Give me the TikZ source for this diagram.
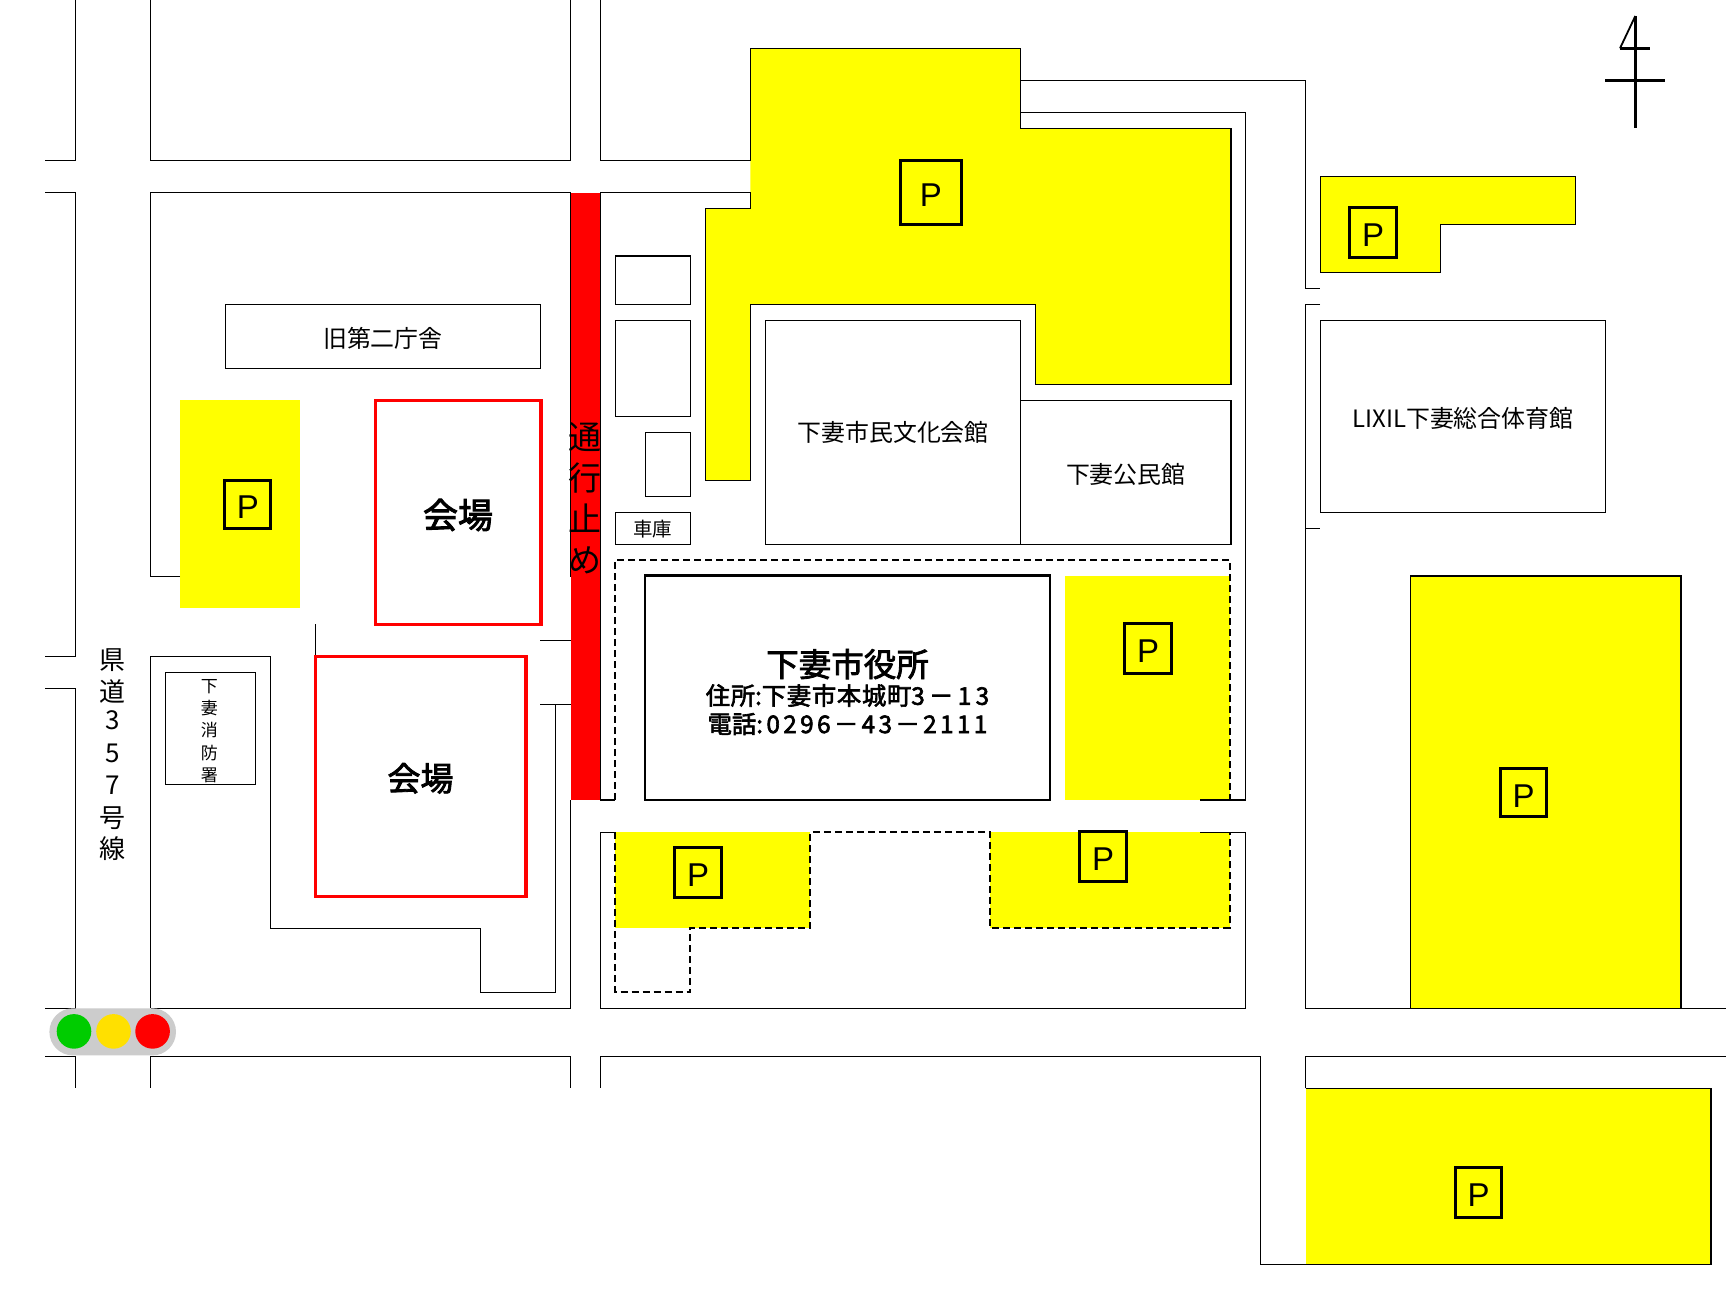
\documentclass[tikz,border=0pt]{standalone}
\usepackage{fontspec}
\setmainfont{Noto Sans CJK JP}
\newfontfamily\pfont{Liberation Sans}
\newfontfamily\semib[FakeBold=2.5]{Noto Sans CJK JP}
\newfontfamily\semibwide[FakeBold=2.5,LetterSpace=14]{Noto Sans CJK JP}
\newfontfamily\semibwider[FakeBold=2.5,LetterSpace=18]{Noto Sans CJK JP}
\newfontfamily\semibsnug[FakeBold=2.5,LetterSpace=3]{Noto Sans CJK JP}
\newcommand{\wide}[1]{{\semibwide #1}}
\newcommand{\widerb}[1]{{\semibwider #1}}
\newcommand{\snug}[1]{{\semibsnug #1}}
\newcommand{\dn}[2]{\raisebox{\dimexpr-0.37em-#1pt\relax}[0pt][0pt]{#2}}
\definecolor{parky}{RGB}{255,255,0}
\definecolor{sigg}{RGB}{0,204,0}
\definecolor{sigy}{RGB}{255,224,0}
\definecolor{sigr}{RGB}{255,0,0}
\definecolor{sigbox}{RGB}{204,204,204}
\newcommand{\rectnode}[7]{%
  \pgfmathsetmacro{\rw}{#5-#3}\pgfmathsetmacro{\rh}{#6-#4}%
  \node[#2, minimum width=\rw pt, minimum height=\rh pt] (#1) at (#3,#4) {#7};}
\tikzset{
  road/.style={draw=black, line width=1.4pt, line join=miter},
  plain/.style={draw=black, line width=1.4pt, anchor=north west, inner sep=0pt, outer sep=0pt, fill=white, align=center},
  labelfont/.style={font=\fontsize{23.9}{28}\selectfont},
  venue/.style={draw=red, line width=3.2pt, anchor=north west, inner sep=0pt, outer sep=0pt, fill=white, align=center},
  hall/.style={draw=black, line width=2.5pt, anchor=north west, inner sep=0pt, outer sep=0pt, fill=white},
  pmark/.style={draw=black, line width=3pt, anchor=north west, inner sep=0pt, outer sep=0pt, fill=parky, font=\pfont\fontsize{33}{36}\selectfont},
  lot/.style={fill=parky, draw=none},
  lotline/.style={fill=parky, draw=black, line width=1.4pt},
  dashline/.style={draw=black, line width=2pt, dash pattern=on 7pt off 4pt},
  northline/.style={draw=black, line width=3pt},
  sigdot/.style={circle, inner sep=0pt, minimum size=34.6pt, draw=none},
}
\begin{document}
\begin{tikzpicture}[x=1pt,y=-1pt]
\useasboundingbox (0,0) rectangle (1726,1297);
\fill[white] (0,0) rectangle (1726,1297);

% parking fills
\fill[lot] (750.4,48.3) -- (1020.6,48.3) -- (1020.6,128.5) -- (1230.9,128.5) -- (1230.9,384.3) -- (1035.4,384.3) -- (1035.4,304.4) -- (750.4,304.4) -- (750.4,480.4) -- (705.4,480.4) -- (705.4,208.4) -- (750.4,208.4) -- cycle;
\fill[lot] (180,400) rectangle (299.8,607.7);
\fill[lot] (1065.2,575.7) rectangle (1230,800);
\fill[lot] (615.2,832.3) rectangle (810.3,927.7);
\fill[lot] (990,832.3) rectangle (1230,927.7);
\fill[lot] (1410.6,576) rectangle (1680.8,1008.3);
\fill[lot] (1305.6,1088.3) rectangle (1711,1264.3);
\filldraw[lotline] (1320.3,176.3) -- (1575.7,176.3) -- (1575.7,224.3) -- (1440.3,224.3) -- (1440.3,272.3) -- (1320.3,272.3) -- cycle;

% closed road
\fill[red] (570.5,192.6) rectangle (600.5,799.8);

% roads and lots
\draw[road] (75.5,0) -- (75.5,160.4) -- (45,160.4);
\draw[road] (45,192.6) -- (75.5,192.6) -- (75.5,656.2) -- (45,656.2);
\draw[road] (45,688.2) -- (75.5,688.2) -- (75.5,1008.2) -- (45,1008.2);
\draw[road] (150.5,0) -- (150.5,160.4) -- (570.5,160.4) -- (570.5,0);
\draw[road] (180,576.5) -- (150.5,576.5) -- (150.5,192.6) -- (570.5,192.6) -- (570.5,576.5);
\draw[road] (600.5,0) -- (600.5,160.4) -- (750.4,160.4) -- (750.4,48.3) -- (1020.6,48.3) -- (1020.6,128.5) -- (1230.9,128.5) -- (1230.9,384.3) -- (1035.4,384.3) -- (1035.4,304.4) -- (750.4,304.4) -- (750.4,480.4) -- (705.4,480.4) -- (705.4,208.4) -- (750.4,208.4) -- (750.4,192.6) -- (600.5,192.6) -- (600.5,800) -- (615.2,800);
\draw[road] (1020.6,80.3) -- (1305.3,80.3) -- (1305.3,288.3) -- (1320,288.3);
\draw[road] (1020.6,112.3) -- (1245.3,112.3) -- (1245.3,800) -- (1200,800);
\draw[road] (1200,832.3) -- (1245.3,832.3) -- (1245.3,1008.2) -- (600.5,1008.2) -- (600.5,832.3) -- (615.2,832.3);
\draw[road] (1320,304.3) -- (1305.5,304.3) -- (1305.5,1008.2) -- (1726,1008.2);
\draw[road] (1305.5,528.3) -- (1320,528.3);
\draw[road] (1410.6,1008.2) -- (1410.6,576) -- (1680.8,576) -- (1680.8,1008.2);
\draw[road] (1305.6,1088.3) -- (1711,1088.3) -- (1711,1264.3) -- (1260.5,1264.3) -- (1260.5,1056.6) -- (600.5,1056.6) -- (600.5,1087.5);
\draw[road] (1305.6,1088.3) -- (1305.6,1056.6) -- (1726,1056.6);
\draw[road] (45,1056.6) -- (75.5,1056.6) -- (75.5,1087.5);
\draw[road] (150.5,1087.5) -- (150.5,1056.6) -- (570.5,1056.6) -- (570.5,1087.5);
\draw[road] (150.5,1008.2) -- (150.5,656.2) -- (270.5,656.2) -- (270.5,928.2) -- (480.4,928.2) -- (480.4,992.5) -- (555.6,992.5) -- (555.6,704.3);
\draw[road] (150.5,1008.2) -- (570.5,1008.2) -- (570.5,799.8);
\draw[road] (540.2,640.4) -- (570.5,640.4);
\draw[road] (540.2,704.3) -- (570.5,704.3);
\draw[road] (315.5,624) -- (315.5,656.2);

% dashed site lines
\draw[dashline] (615.2,800) -- (615.2,560) -- (1230,560) -- (1230,800);
\draw[dashline] (615.2,832.3) -- (615.2,992) -- (690,992) -- (690,927.7) -- (810.3,927.7) -- (810.3,832.3) -- (990,832.3) -- (990,927.7) -- (1230,927.7) -- (1230,832.3);

% buildings
\rectnode{oldannex}{plain,labelfont}{225.4}{304.5}{540.4}{368.5}{\dn{2.5}{旧第二庁舎}}
\rectnode{shed1}{plain}{615.3}{256.2}{690.5}{304.5}{}
\rectnode{shed2}{plain}{615.3}{320.3}{690.5}{416.4}{}
\rectnode{shed3}{plain}{645.6}{432.6}{690.5}{496.2}{}
\rectnode{garage}{plain,font=\fontsize{19.5}{22}\selectfont}{615.3}{512.5}{690.5}{544.5}{\dn{1}{車庫}}
\rectnode{culture}{plain,labelfont}{765.6}{320.3}{1020.6}{544.5}{\dn{0.5}{下妻市民文化会館}}
\rectnode{kominkan}{plain,labelfont}{1020.6}{400.2}{1230.9}{544.5}{\dn{2}{下妻公民館}}
\rectnode{lixil}{plain,labelfont}{1320.3}{320.3}{1605.7}{512.3}{\dn{2}{LIXIL下妻総合体育館}}
\rectnode{firebox}{plain}{165.3}{672.5}{255.4}{784.6}{}
\node[align=center, inner sep=0pt, font=\fontsize{17}{22.3}\selectfont] (firetext) at (209.4,731) {下\\妻\\消\\防\\署};
\rectnode{venue1}{venue,font=\semib\fontsize{35}{40}\selectfont}{375.1}{400.2}{540.9}{624.3}{\dn{3}{会場}}
\rectnode{venue2}{venue,font=\semib\fontsize{33}{38}\selectfont}{315.1}{656.2}{525.9}{896.4}{\dn{2.3}{会場}}
\rectnode{cityhall}{hall}{645}{575.7}{1050}{799.8}{}
\node[align=center, inner sep=0pt, font=\semib\fontsize{24.3}{28.3}\selectfont] (cityhalltext) at (847.5,692) {{\fontsize{32.5}{33}\selectfont 下妻市役所}\\\snug{住所}\widerb{:}\snug{下妻市本城町}\widerb{3－13}\\電話\wide{:0296－43－2111}};

% vertical labels
\node[align=center, inner sep=0pt, font=\fontsize{26}{31.5}\selectfont] (route) at (112.7,755) {県\\道\\[-3pt]3\\[1pt]5\\[1pt]7\\[1pt]号\\線};
\node[align=center, inner sep=0pt, font=\fontsize{33}{41}\selectfont] (closed) at (585.4,498) {通\\行\\止\\め};

% parking marks
\rectnode{p1}{pmark}{900.3}{160.3}{961.3}{224.8}{\dn{2.2}{P}}
\rectnode{p2}{pmark}{1349.7}{207.3}{1396.7}{257.3}{\dn{2.2}{P}}
\rectnode{p3}{pmark}{224.8}{480}{270.8}{528.6}{\dn{2.2}{P}}
\rectnode{p4}{pmark}{1124.8}{623.7}{1171.2}{673}{\dn{2.2}{P}}
\rectnode{p5}{pmark}{1500.4}{768.4}{1546.6}{816.8}{\dn{2.2}{P}}
\rectnode{p6}{pmark}{674.9}{847.7}{721.3}{897}{\dn{2.2}{P}}
\rectnode{p7}{pmark}{1079.8}{831.7}{1126.2}{881}{\dn{2.2}{P}}
\rectnode{p8}{pmark}{1455.4}{1167.3}{1501.7}{1217.3}{\dn{2.2}{P}}

% traffic light
\fill[sigbox, rounded corners=23.5pt] (49.4,1008.3) rectangle (176,1055.4);
\node[sigdot, fill=sigg] (siggreen) at (74,1031.4) {};
\node[sigdot, fill=sigy] (sigyellow) at (113.5,1031.4) {};
\node[sigdot, fill=sigr] (sigred) at (152.6,1031.4) {};

% north mark
\draw[northline] (1635.3,16) -- (1635.3,127.7);
\draw[northline] (1605,80.3) -- (1665,80.3);
\draw[northline] (1620,48.3) -- (1650,48.3);
\draw[draw=black, line width=1.8pt] (1635.3,16) -- (1620,48.3);
\end{tikzpicture}
\end{document}
